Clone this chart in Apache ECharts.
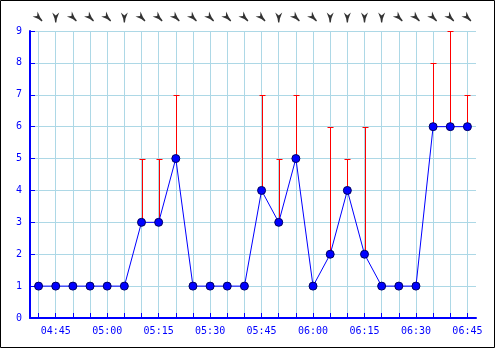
<!DOCTYPE html>
<html><head><meta charset="utf-8">
<script src="https://cdn.jsdelivr.net/npm/echarts@6/dist/echarts.min.js"></script>
<style>html,body{margin:0;padding:0;background:#fff}#c{width:495px;height:348px}</style>
</head><body><div id="c"></div>
<script>
const times = ['04:40','04:45','04:50','04:55','05:00','05:05','05:10','05:15','05:20','05:25','05:30','05:35','05:40','05:45','05:50','05:55','06:00','06:05','06:10','06:15','06:20','06:25','06:30','06:35','06:40','06:45'];
const speed = [1,1,1,1,1,1,3,3,5,1,1,1,1,4,3,5,1,2,4,2,1,1,1,6,6,6];
const gust  = [null,null,null,null,null,null,5,5,7,null,null,null,null,7,5,7,null,6,5,6,null,null,null,8,9,7];
const windDir = [315,0,315,315,315,0,315,315,315,315,315,315,315,315,0,315,315,0,0,0,0,315,315,315,315,315];
const yTicks = [0,1,2,3,4,5,6,7,8,9];

const blue = '#0000ff';
const font = 'DejaVu Sans Mono';
const arrowPath = 'path://M-3.5,-5 L0,-2 L3.5,-5 L1.2,1 L0.6,5 L-0.6,5 L-1.2,1 Z';

const gustData = [];
gust.forEach((g, i) => { if (g != null) gustData.push([i, speed[i], g]); });

const chart = echarts.init(document.getElementById('c'), null, {renderer: 'canvas'});
chart.setOption({
  animation: false,
  backgroundColor: '#fff',
  graphic: [{type: 'rect', shape: {x: 0.5, y: 0.5, width: 494, height: 347}, style: {fill: 'none', stroke: '#000', lineWidth: 1}, z: 100}],
  grid: [
    {left: 30, right: 19, top: 31, bottom: 30},
    {left: 30, right: 19, top: 8, height: 19}
  ],
  xAxis: [
    {
      type: 'category', gridIndex: 0, data: times, boundaryGap: true,
      axisLine: {lineStyle: {color: blue, width: 2}},
      axisTick: {show: true, inside: true, length: 5, interval: 0, alignWithLabel: true, lineStyle: {color: blue, width: 1}},
      axisLabel: {color: blue, fontFamily: font, fontSize: 10, margin: 8, interval: (i) => i % 3 === 1},
      splitLine: {show: true, interval: 0, alignWithLabel: true, lineStyle: {color: '#add8e6', width: 1}}
    },
    {type: 'category', gridIndex: 1, data: times, boundaryGap: true, show: false}
  ],
  yAxis: [
    {
      type: 'value', gridIndex: 0, min: 0, max: 9, interval: 1,
      axisLine: {show: true, lineStyle: {color: blue, width: 2}},
      axisTick: {show: true, inside: true, length: 5, lineStyle: {color: blue}},
      axisLabel: {color: blue, fontFamily: font, fontSize: 10, margin: 8, formatter: (v) => yTicks.includes(v) ? String(v) : ''},
      splitLine: {show: true, lineStyle: {color: '#add8e6', width: 1}}
    },
    {type: 'value', gridIndex: 1, min: 0, max: 1, show: false}
  ],
  series: [
    {
      type: 'custom', xAxisIndex: 0, yAxisIndex: 0, z: 2,
      data: gustData,
      renderItem: (params, api) => {
        const p0 = api.coord([api.value(0), api.value(1)]);
        const p1 = api.coord([api.value(0), api.value(2)]);
        const x = Math.round(p0[0]) + 0.5;
        const yt = Math.round(p1[1]) + 0.5;
        return {type: 'group', children: [
          {type: 'line', shape: {x1: x, y1: p0[1], x2: x, y2: yt}, style: {stroke: '#ff0000', lineWidth: 1}},
          {type: 'line', shape: {x1: x - 3, y1: yt, x2: x + 3, y2: yt}, style: {stroke: '#ff0000', lineWidth: 1}}
        ]};
      }
    },
    {
      type: 'line', xAxisIndex: 0, yAxisIndex: 0, z: 3,
      data: speed,
      symbol: 'circle', symbolSize: 8, showSymbol: true,
      lineStyle: {color: blue, width: 1},
      itemStyle: {color: blue, borderColor: '#000060', borderWidth: 1}
    },
    {
      type: 'scatter', xAxisIndex: 1, yAxisIndex: 1,
      data: windDir.map((d, i) => ({value: [i, 0.5], symbolRotate: -d})),
      symbol: arrowPath, symbolSize: [7, 10],
      itemStyle: {color: '#000'}
    }
  ]
});
</script>
</body></html>
